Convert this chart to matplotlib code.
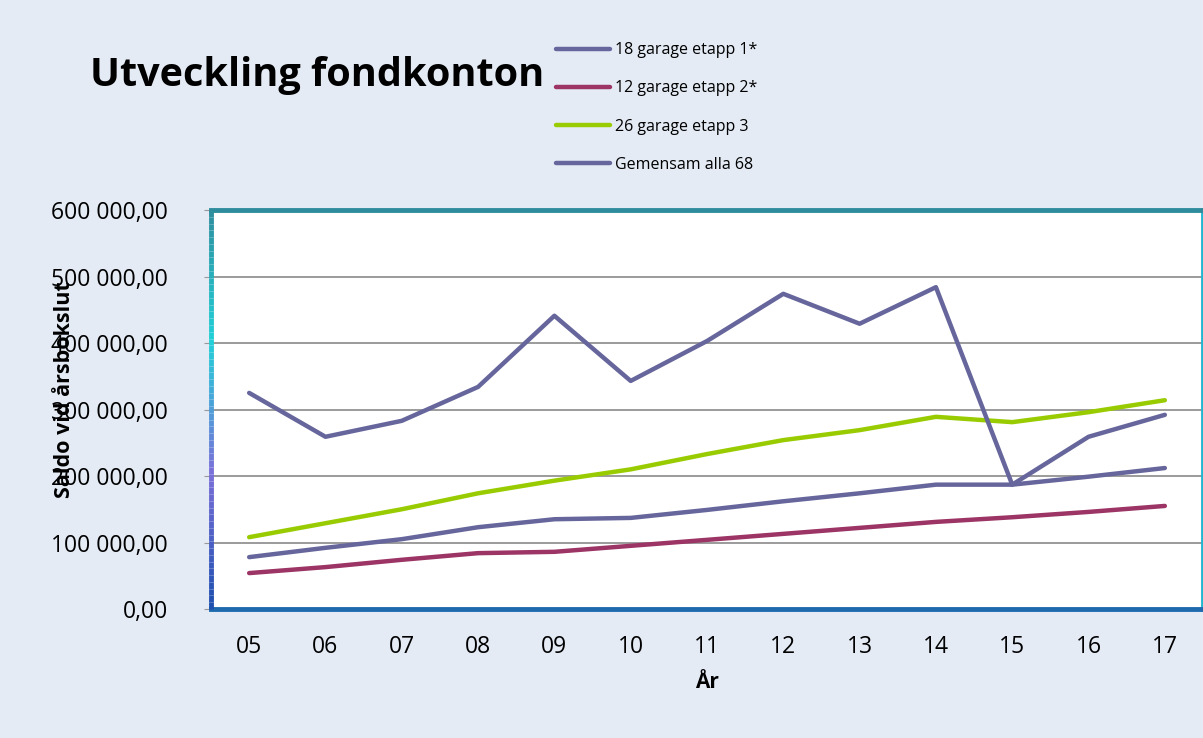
import numpy as np
import matplotlib.pyplot as plt
from matplotlib.collections import LineCollection
from matplotlib.ticker import FuncFormatter

years = ["05", "06", "07", "08", "09", "10", "11", "12", "13", "14", "15", "16", "17"]
etapp1 = [78000, 92000, 105000, 123000, 135000, 137000, 149000, 162000, 174000, 187000, 187000, 199000, 212000]
etapp2 = [54000, 63000, 74000, 84000, 86000, 95000, 104000, 113000, 122000, 131000, 138000, 146000, 155000]
etapp3 = [108000, 129000, 150000, 174000, 193000, 210000, 233000, 254000, 269000, 289000, 281000, 296000, 314000]
gemensam = [325000, 259000, 283000, 334000, 441000, 343000, 403000, 474000, 429000, 484000, 187000, 259000, 292000]

bg = "#E4EBF5"
purple = "#66669C"
red = "#9C3465"
green = "#99CC00"

plt.rcParams['font.family'] = ['Open Sans', 'DejaVu Sans']

fig = plt.figure(figsize=(12.03, 7.38), dpi=100, facecolor=bg)
ax = fig.add_axes([0.1754, 0.1748, 0.8246, 0.5406])
ax.set_facecolor("white")

x = np.arange(len(years))
ax.plot(x, etapp1, color=purple, lw=3.2, label="18 garage etapp 1*", solid_capstyle="round")
ax.plot(x, etapp2, color=red, lw=3.2, label="12 garage etapp 2*", solid_capstyle="round")
ax.plot(x, etapp3, color=green, lw=3.2, label="26 garage etapp 3", solid_capstyle="round")
ax.plot(x, gemensam, color=purple, lw=3.2, label="Gemensam alla 68", solid_capstyle="round")

ax.set_xlim(-0.5, len(years) - 0.5)
ax.set_ylim(0, 600000)
ax.set_yticks(np.arange(0, 600001, 100000))
ax.yaxis.set_major_formatter(FuncFormatter(lambda v, p: f"{int(v):,}".replace(",", " ") + ",00"))
ax.set_xticks(x)
ax.set_xticklabels(years)
ax.grid(axis="y", color="#8A8A8A", lw=1.2)
ax.set_axisbelow(True)
ax.tick_params(axis="y", labelsize=16.5, length=5, color="#999999", pad=26)
ax.tick_params(axis="x", labelsize=16.5, length=0, pad=19)

for s in ["top", "right", "bottom"]:
    ax.spines[s].set_linewidth(3.5)
ax.spines["top"].set_color("#2F8C9C")
ax.spines["right"].set_color("#22B8D0")
ax.spines["bottom"].set_color("#1E6AAE")
ax.spines["left"].set_visible(False)

# gradient left border
ys = np.linspace(0, 1, 60)
segs = [[(0, ys[i]), (0, ys[i + 1])] for i in range(len(ys) - 1)]
cols = plt.cm.colors.LinearSegmentedColormap.from_list("edge", ["#1E50B0", "#7A6FD8", "#22D0D8", "#2F8C9C"])(ys[:-1])
lc = LineCollection(segs, colors=cols, lw=3.5, transform=ax.transAxes, clip_on=False, zorder=5)
ax.add_collection(lc)

ax.set_xlabel("År", fontsize=15, fontweight="bold", labelpad=9)
ax.set_ylabel("Saldo vid årsbokslut", fontsize=15.5, fontweight="bold")
ax.yaxis.set_label_coords(-0.137, 0.551)

fig.text(0.075, 0.898, "Utveckling fondkonton", fontsize=28.5, fontweight="bold", va="center", ha="left")

fig.legend(loc="upper left", bbox_to_anchor=(0.450, 0.962), frameon=False, fontsize=11.5,
           handlelength=3.4, handletextpad=0.3, labelspacing=1.38)

fig.savefig("out.png", dpi=100, facecolor=bg)
